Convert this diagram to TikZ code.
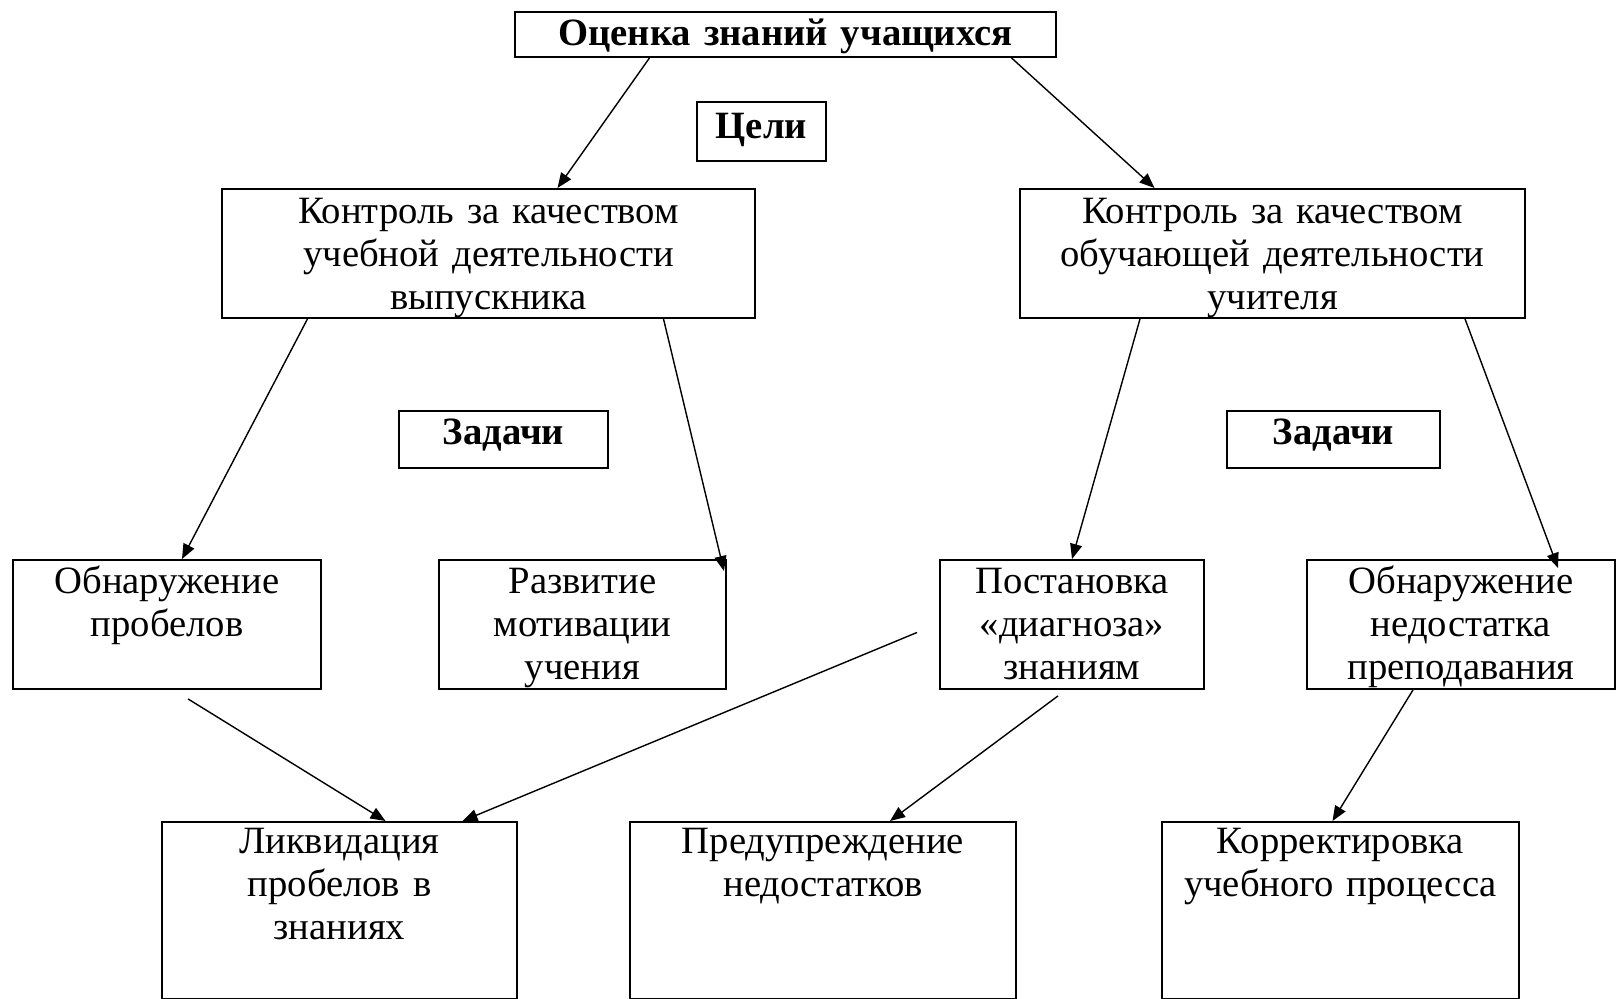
\documentclass[tikz,border=0pt]{standalone}
\usepackage{fontspec}
\setmainfont{Liberation Serif}
\usepackage{tikz}
\usetikzlibrary{arrows.meta,calc}

\begin{document}
\begin{tikzpicture}[x=0.02cm, y=-0.02cm,
    box/.style={draw, line width=1.1pt, align=center, anchor=north,
                inner xsep=0pt, inner ysep=0pt,
                font=\fontsize{22}{24.4}\selectfont},
    arr/.style={line width=0.8pt, -{Triangle[length=0.3cm,width=0.24cm]}}]
  \useasboundingbox (0,0) rectangle (1618,999);

  % top and goals
  \node[box, font=\fontsize{22}{24.4}\selectfont\bfseries, text width=10.82cm,
        text height=0.68cm, text depth=0.22cm] (ocenka) at (785.5,11) {Оценка знаний учащихся};
  \node[box, font=\fontsize{22}{24.4}\selectfont\bfseries, text width=2.58cm,
        text height=0.74cm, text depth=0.44cm] (celi) at (761.5,101) {Цели};

  % control
  \node[box, text width=10.66cm, text height=0.70cm, text depth=1.88cm] (kontrU) at (488.5,188)
    {Контроль за качеством\\учебной деятельности\\выпускника};
  \node[box, text width=10.10cm, text height=0.70cm, text depth=1.88cm] (kontrO) at (1272.5,188)
    {Контроль за качеством\\обучающей деятельности\\учителя};

  % tasks
  \node[box, font=\fontsize{22}{24.4}\selectfont\bfseries, text width=4.18cm,
        text height=0.68cm, text depth=0.46cm] (zadL) at (503.5,410) {Задачи};
  \node[box, font=\fontsize{22}{24.4}\selectfont\bfseries, text width=4.26cm,
        text height=0.68cm, text depth=0.46cm] (zadR) at (1333.5,410) {Задачи};

  % third row
  \node[box, text width=6.16cm, text height=0.68cm, text depth=1.90cm] (obnProb) at (167,559)
    {Обнаружение\\пробелов};
  \node[box, text width=5.74cm, text height=0.68cm, text depth=1.90cm] (razv) at (582.5,559)
    {Развитие\\мотивации\\учения};
  \node[box, text width=5.28cm, text height=0.68cm, text depth=1.90cm] (diag) at (1072,559)
    {Постановка\\«диагноза»\\знаниям};
  \node[box, text width=6.16cm, text height=0.68cm, text depth=1.90cm] (obnNed) at (1461,559)
    {Обнаружение\\недостатка\\преподавания};

  % bottom row
  \node[box, text width=7.10cm, text height=0.64cm, text depth=2.90cm] (likv) at (339.5,821)
    {Ликвидация\\пробелов в\\знаниях};
  \node[box, text width=7.72cm, text height=0.64cm, text depth=2.90cm] (predupr) at (823,821)
    {Предупреждение\\недостатков};
  \node[box, text width=7.14cm, text height=0.64cm, text depth=2.90cm] (korr) at (1340.5,821)
    {Корректировка\\учебного процесса};

  % arrows
  \draw[arr] ($(ocenka.south)+(-136,0)$) -- ($(kontrU.north)+(69,0)$);
  \draw[arr] ($(ocenka.south)+(226,0)$) -- ($(kontrO.north)+(-118,0)$);
  \draw[arr] ($(kontrU.south)+(-181,0)$) -- ($(obnProb.north)+(15,0)$);
  \draw[arr] ($(kontrU.south)+(175,0)$) -- ($(razv.north east)+(-3,12)$);
  \draw[arr] ($(kontrO.south)+(-132.5,0)$) -- (diag.north);
  \draw[arr] ($(kontrO.south)+(192.5,0)$) -- ($(obnNed.north)+(97,9)$);
  \draw[arr] ($(obnProb.south)+(21,9)$) -- ($(likv.north)+(46,0)$);
  \draw[arr] ($(diag.west)+(-22,8)$) -- ($(likv.north)+(123,0)$);
  \draw[arr] ($(diag.south)+(-14,6)$) -- ($(predupr.north)+(67,0)$);
  \draw[arr] ($(obnNed.south)+(-48,0)$) -- ($(korr.north)+(-8,0)$);
\end{tikzpicture}
\end{document}
